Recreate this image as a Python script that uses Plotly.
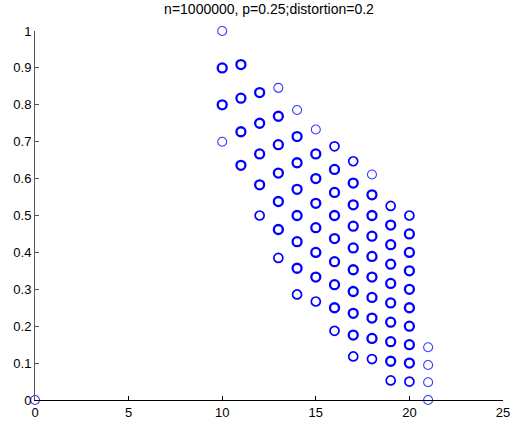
import plotly.graph_objects as go

# Points whose circles are drawn once (thin outline)
x_single = [0, 10, 10, 13, 14, 15, 18, 21, 21, 21, 21]
y_single = [0.0, 1.0, 0.7, 0.846, 0.786, 0.733, 0.611, 0.143, 0.095, 0.048, 0.0]

# Points drawn a few times (medium outline)
x_few = [12, 13, 14, 15, 16, 16, 17, 17, 18, 19, 19, 20, 20]
y_few = [0.5, 0.385, 0.286, 0.267, 0.6875, 0.1875, 0.647, 0.118, 0.111, 0.526, 0.053, 0.5, 0.05]

# Points drawn many times (heavy outline)
x_many = [10, 10,
          11, 11, 11, 11,
          12, 12, 12, 12,
          13, 13, 13, 13, 13,
          14, 14, 14, 14, 14, 14,
          15, 15, 15, 15, 15, 15,
          16, 16, 16, 16, 16, 16, 16,
          17, 17, 17, 17, 17, 17, 17, 17,
          18, 18, 18, 18, 18, 18, 18, 18,
          19, 19, 19, 19, 19, 19, 19, 19,
          20, 20, 20, 20, 20, 20, 20, 20]
y_many = [0.9, 0.8,
          0.909, 0.818, 0.727, 0.636,
          0.833, 0.75, 0.667, 0.583,
          0.769, 0.692, 0.615, 0.538, 0.462,
          0.714, 0.643, 0.571, 0.5, 0.429, 0.357,
          0.667, 0.6, 0.533, 0.467, 0.4, 0.333,
          0.625, 0.5625, 0.5, 0.4375, 0.375, 0.3125, 0.25,
          0.588, 0.529, 0.471, 0.412, 0.353, 0.294, 0.235, 0.176,
          0.556, 0.5, 0.444, 0.389, 0.333, 0.278, 0.222, 0.167,
          0.474, 0.421, 0.368, 0.316, 0.263, 0.211, 0.158, 0.105,
          0.45, 0.4, 0.35, 0.3, 0.25, 0.2, 0.15, 0.1]

x_ticks = [0, 5, 10, 15, 20, 25]
y_ticks = [0, 0.1, 0.2, 0.3, 0.4, 0.5, 0.6, 0.7, 0.8, 0.9, 1]
y_tick_text = ["0", "0.1", "0.2", "0.3", "0.4", "0.5", "0.6", "0.7", "0.8", "0.9", "1"]

fig = go.Figure()


def add_group(xs, ys, color, width):
    fig.add_trace(go.Scatter(
        x=xs, y=ys, mode="markers", cliponaxis=False, showlegend=False,
        marker=dict(symbol="circle-open", size=9, color=color,
                    line=dict(color=color, width=width)),
    ))


add_group(x_single, y_single, "#3a3aff", 1.1)
add_group(x_few, y_few, "#0000ff", 1.7)
add_group(x_many, y_many, "#0000ff", 2.3)

fig.update_layout(
    width=520, height=430,
    margin=dict(l=35, r=10, t=31, b=25),
    paper_bgcolor="white", plot_bgcolor="white",
    font=dict(family="Liberation Sans, Arial, sans-serif", size=13, color="black"),
    title=dict(text="n=1000000, p=0.25;distortion=0.2", x=0.5, xref="paper",
               xanchor="center", y=0.99, yanchor="top",
               font=dict(size=14)),
)
fig.update_xaxes(
    range=[0, 25], tickvals=x_ticks, showgrid=False, zeroline=False,
    showline=True, linecolor="black", linewidth=1, mirror=False,
    ticks="inside", ticklen=4, tickcolor="black",
)
fig.update_yaxes(
    range=[0, 1], tickvals=y_ticks, ticktext=y_tick_text, showgrid=False,
    zeroline=False, showline=True, linecolor="#555555", linewidth=1, mirror=False,
    ticks="inside", ticklen=4, tickcolor="#555555",
)

fig.write_html("out.html")
